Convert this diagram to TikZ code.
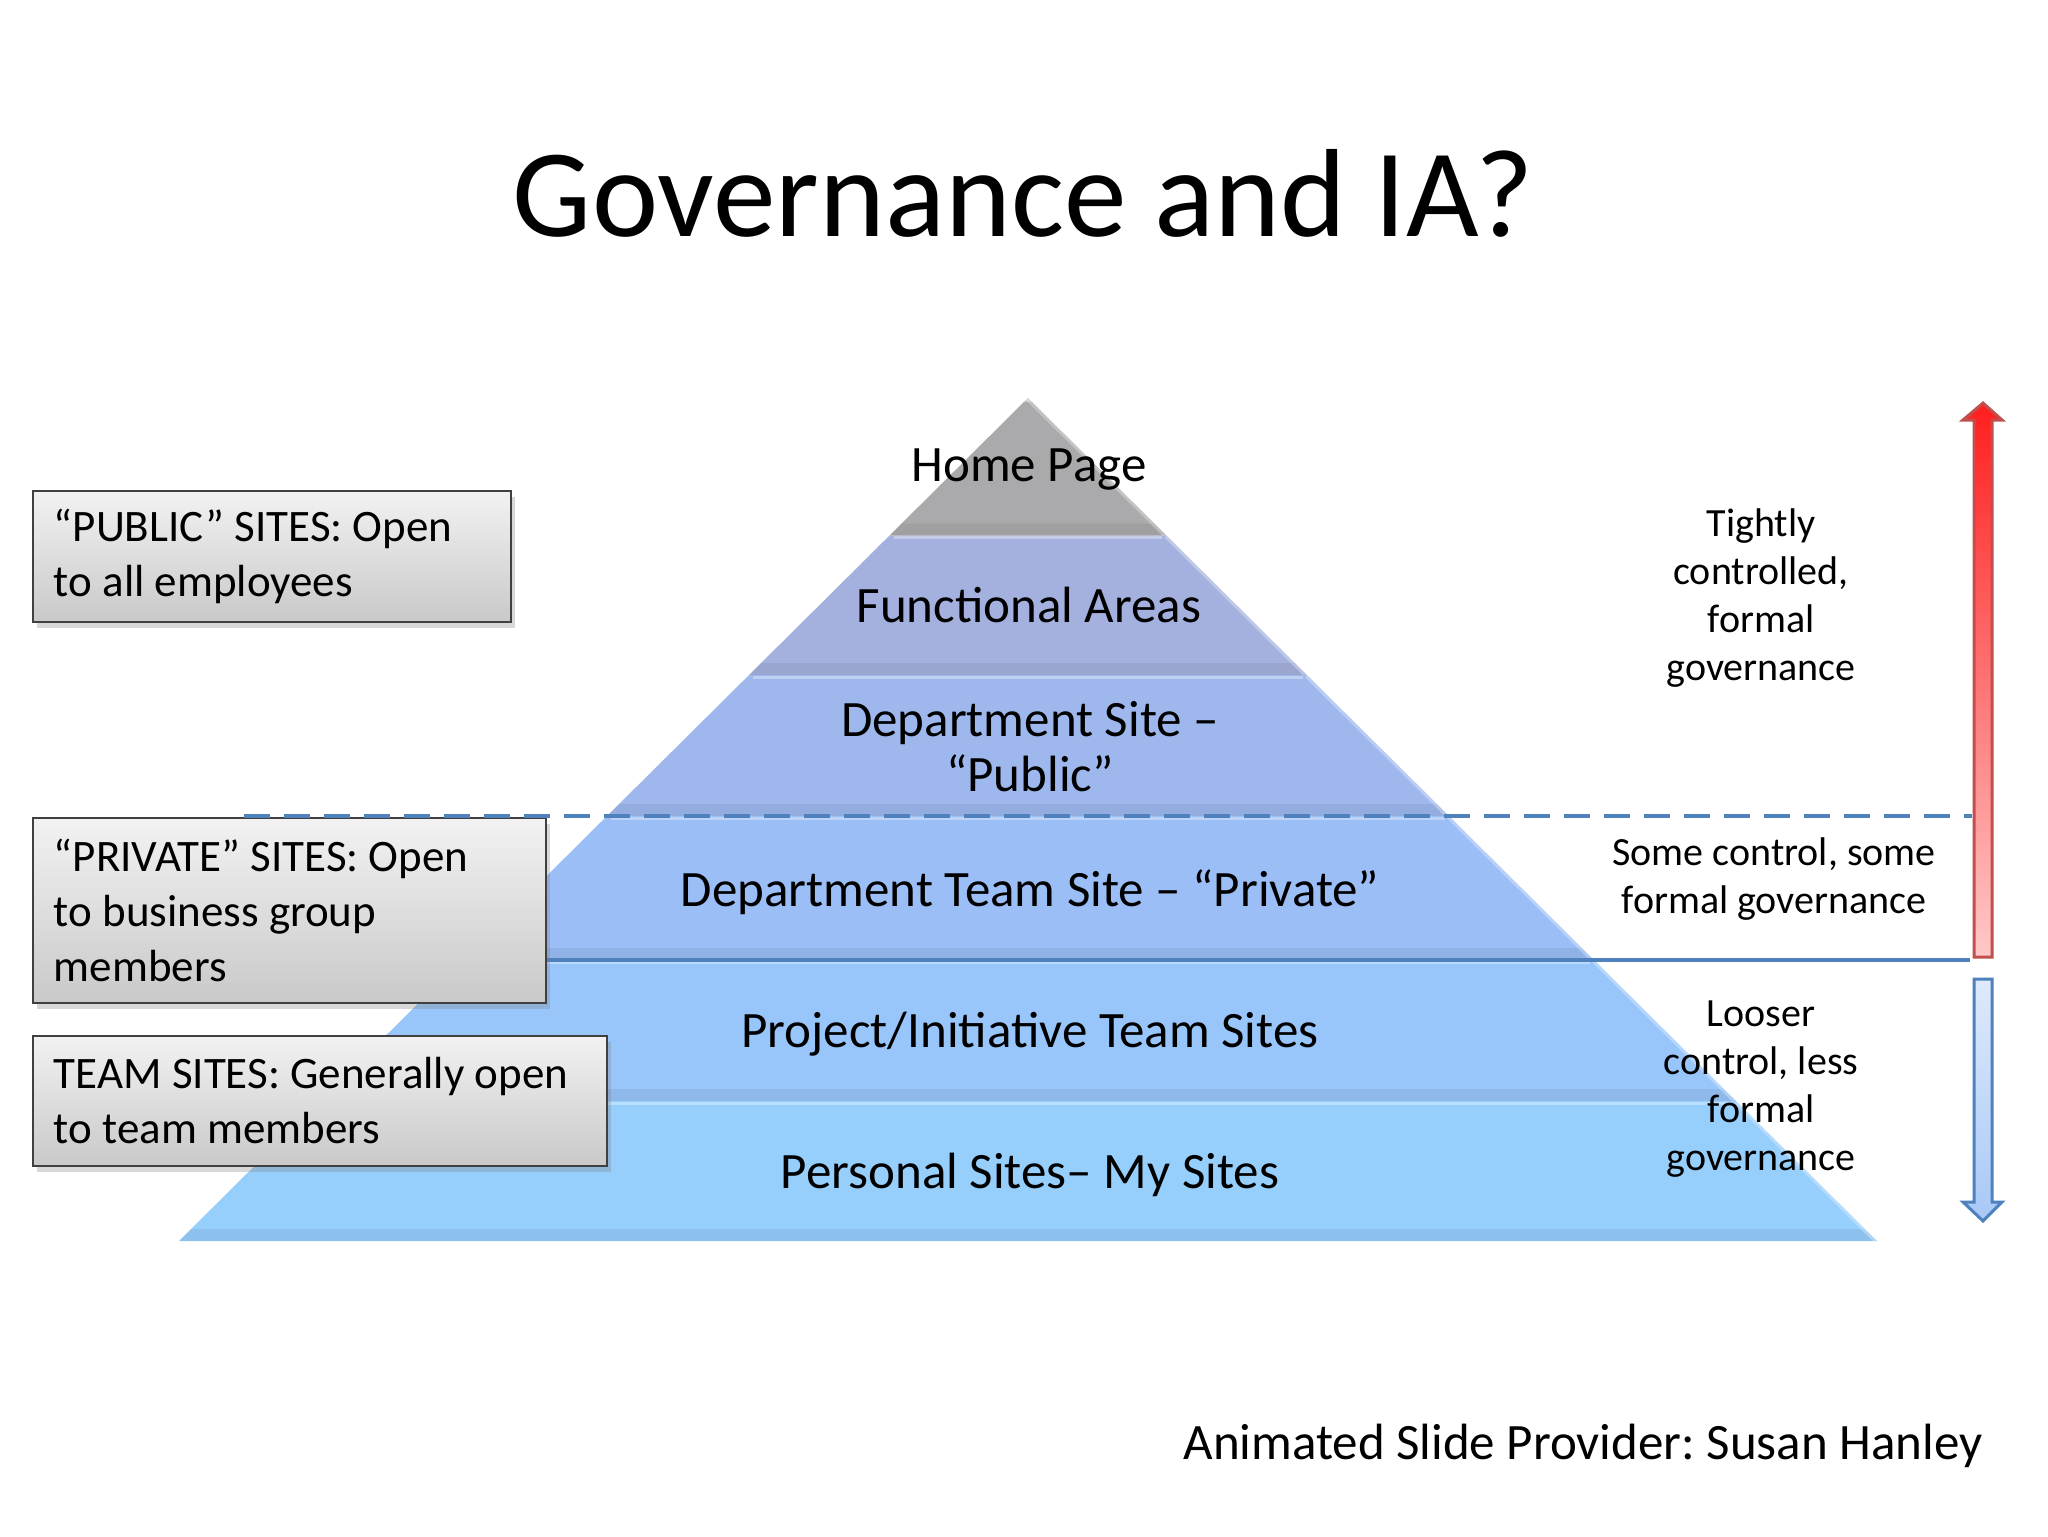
\documentclass[tikz,border=0pt]{standalone}
\usepackage{fontspec}
\setmainfont{Carlito}
\frenchspacing
\usetikzlibrary{shadows,calc}
\definecolor{homegray}{RGB}{170,170,172}
\definecolor{funcblue}{RGB}{164,177,222}
\definecolor{deptblue}{RGB}{158,184,238}
\definecolor{teamblue}{RGB}{155,190,246}
\definecolor{projblue}{RGB}{152,197,250}
\definecolor{persblue}{RGB}{150,206,252}
\definecolor{lineblue}{RGB}{79,129,189}
\definecolor{arrowred}{RGB}{192,80,77}
\definecolor{redtop}{RGB}{255,30,30}
\definecolor{redbot}{RGB}{255,200,200}
\definecolor{bluetop}{RGB}{222,234,252}
\definecolor{bluebot}{RGB}{168,200,247}
\definecolor{boxtop}{RGB}{242,242,242}
\definecolor{boxbot}{RGB}{201,201,201}
\definecolor{boxline}{RGB}{64,64,64}
\newcommand\pyrlayer[3]{%
  \pgfmathsetmacro\pyTa{1028-(#1-398)*1.00712}%
  \pgfmathsetmacro\pyTb{1028+(#1-398)*1.00712}%
  \pgfmathsetmacro\pyBa{1028-(#2-398)*1.00712}%
  \pgfmathsetmacro\pyBb{1028+(#2-398)*1.00712}%
  \pgfmathsetmacro\pyMa{1028-(#2-12-398)*1.00712}%
  \pgfmathsetmacro\pyMb{1028+(#2-12-398)*1.00712}%
  \fill[#3] ({\pyTa},{#1}) -- ({\pyTb},{#1}) -- ({\pyBb},{#2}) -- ({\pyBa},{#2}) -- cycle;
  \fill[black,opacity=.06] ({\pyMa},{#2-12}) -- ({\pyMb},{#2-12}) -- ({\pyBb},{#2}) -- ({\pyBa},{#2}) -- cycle;
  \draw[white,opacity=.35,line width=1.5pt] ({\pyTa+4},{#1+2}) -- ({\pyTb-4},{#1+2});
  \draw[white,opacity=.3,line width=3pt] ({\pyTb},{#1}) -- ({\pyBb},{#2});
}
\begin{document}
\begin{tikzpicture}[x=0.5pt,y=-0.5pt,
  title/.style={anchor=base,inner sep=0pt,font=\fontsize{62.7}{75}\selectfont},
  layerlabel/.style={inner sep=0pt,font=\fontsize{25.5}{27.5}\selectfont,align=center},
  sidenote/.style={inner sep=0pt,font=\fontsize{20}{24}\selectfont,align=center},
  infobox/.style={draw=boxline,line width=1pt,top color=boxtop,bottom color=boxbot,
    font=\fontsize{22.5}{27.5}\selectfont,align=flush left,inner xsep=10.5pt,inner ysep=0pt,
    drop shadow={opacity=0.3,shadow xshift=2pt,shadow yshift=-3pt}},
  guide/.style={lineblue,line width=2pt}]
\useasboundingbox (0,0) rectangle (2048,1536);
\fill[white] (0,0) rectangle (2048,1536);

\node[title] (ttl) at (1023,236) {Governance and IA?};

% pyramid layers
\pyrlayer{398}{535.5}{homegray}
\pyrlayer{535.5}{675}{funcblue}
\pyrlayer{675}{816}{deptblue}
\pyrlayer{816}{960}{teamblue}
\pyrlayer{960}{1101}{projblue}
\pyrlayer{1101}{1241}{persblue}

% solid boundary line
\coordinate (solidL) at (420,960);
\coordinate (solidR) at (1970,960);
\draw[guide] (solidL) -- (solidR);

% layer labels
\node[layerlabel,anchor=base] (home) at (1029,481) {Home Page};
\node[layerlabel,anchor=base] (func) at (1029,622) {Functional Areas};
\node[layerlabel] (dept) at (1030,747) {Department Site –\\“Public”};
\node[layerlabel,anchor=base] (team) at (1030,906) {Department Team Site – “Private”};
\node[layerlabel,anchor=base] (proj) at (1030,1047) {Project/Initiative Team Sites};
\node[layerlabel,anchor=base] (pers) at (1030,1188) {Personal Sites– My Sites};

% info boxes
\node[infobox,text width=218pt,minimum height=65.5pt] (pub) at (272,556.5) {“PUBLIC” SITES: Open\\to all employees};
\node[infobox,text width=235.5pt,minimum height=92.5pt] (priv) at (289.5,910.5) {“PRIVATE” SITES: Open\\to business group\\members};
\node[infobox,text width=266pt,minimum height=65pt] (teams) at (320,1101) {TEAM SITES: Generally open\\to team members};

% dashed boundary line
\coordinate (dashL) at (244,816);
\coordinate (dashR) at (1972,816);
\draw[guide,dash pattern=on 13pt off 7pt] (dashL) -- (dashR);

% side notes
\node[sidenote] (tight) at (1761,598.5) {Tightly\\controlled,\\formal\\governance};
\node[sidenote] (some) at (1774,879.5) {Some control, some\\formal governance};
\node[sidenote] (loose) at (1761,1089) {Looser\\control, less\\formal\\governance};

% arrows
\path[draw=arrowred,line width=1.5pt,top color=redtop,bottom color=redbot]
  (1974,957) -- (1974,420) -- (1963,420) -- (1983,403) -- (2002,420) -- (1992,420) -- (1992,957) -- cycle;
\path[draw=lineblue,line width=1.5pt,top color=bluetop,bottom color=bluebot]
  (1974,979) -- (1992,979) -- (1992,1202) -- (2002,1202) -- (1983,1221) -- (1963,1202) -- (1974,1202) -- cycle;

\node[anchor=base east,inner sep=0pt,font=\fontsize{25.5}{30}\selectfont] (credit) at (1983,1459) {Animated Slide Provider: Susan Hanley};
\end{tikzpicture}
\end{document}
